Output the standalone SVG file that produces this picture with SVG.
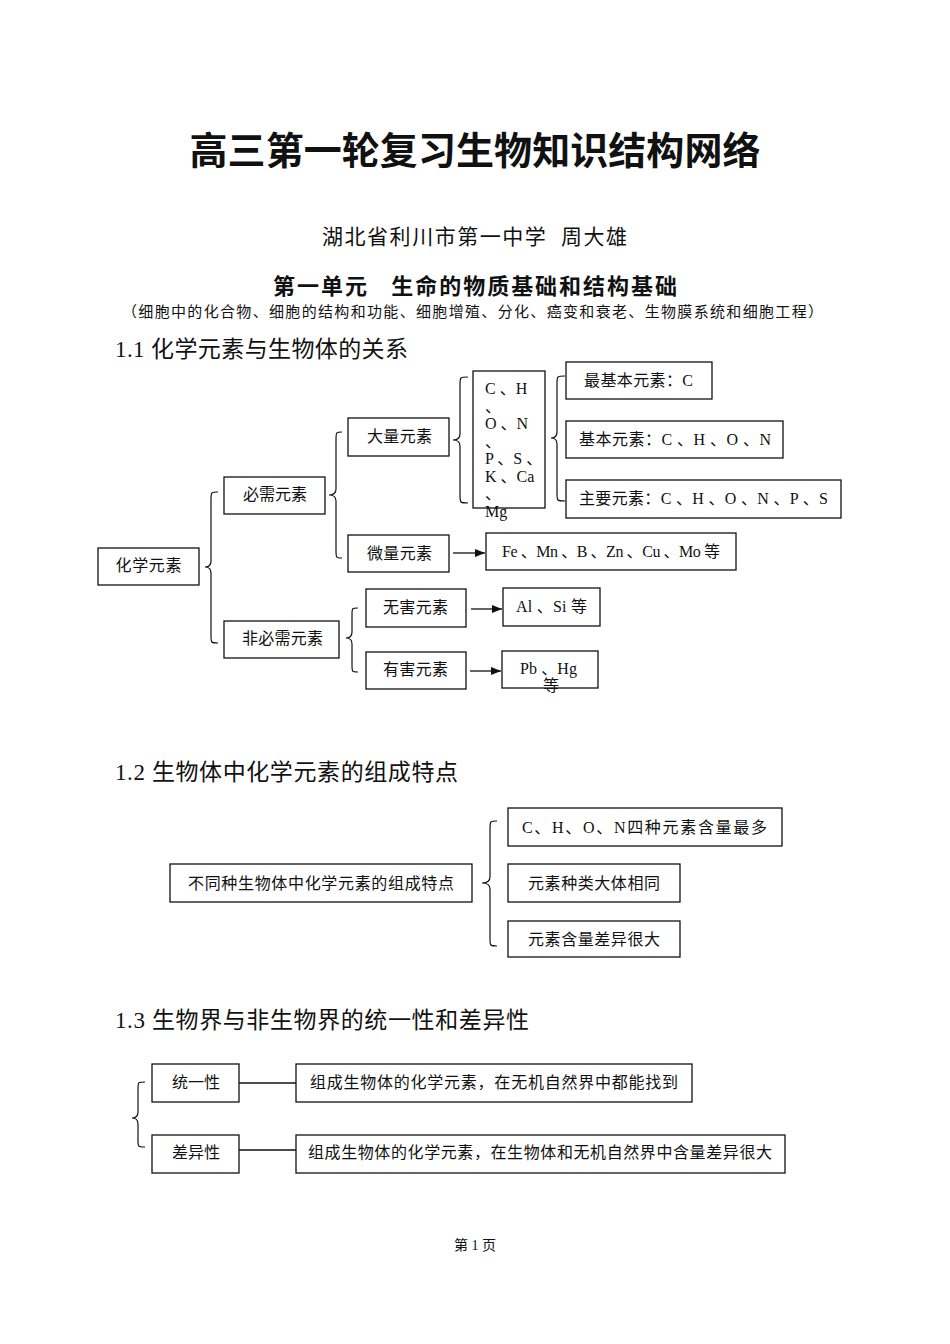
<svg xmlns="http://www.w3.org/2000/svg" width="950" height="1344" viewBox="0 0 950 1344">
<style>
text{font-family:"Liberation Serif","Noto Sans CJK SC",serif;fill:#111}
.t{font-size:16px}
.c{text-anchor:middle}
.box{fill:#fff;stroke:#111;stroke-width:1.3}
.br{fill:none;stroke:#111;stroke-width:1.2}
.ln{stroke:#111;stroke-width:1.3}
.title{font-family:"Noto Sans CJK SC","Liberation Sans",sans-serif;font-size:38px;font-weight:bold;text-anchor:middle}
.h{font-size:23px}
</style>
<defs>
<marker id="arr" markerUnits="userSpaceOnUse" markerWidth="10" markerHeight="8" refX="10" refY="4" orient="auto">
<path d="M0,0 L10,4 L0,8 z" fill="#111"/>
</marker>
</defs>
<rect width="950" height="1344" fill="#fff"/>

<g id="headings">
<text class="title" x="475" y="164" textLength="571">高三第一轮复习生物知识结构网络</text>
<text x="322" y="244" font-size="21" textLength="305" xml:space="preserve">湖北省利川市第一中学  周大雄</text>
<text x="273" y="294" font-size="22" font-weight="bold" textLength="404" xml:space="preserve">第一单元   生命的物质基础和结构基础</text>
<text x="122" y="317" font-size="15" textLength="701">（细胞中的化合物、细胞的结构和功能、细胞增殖、分化、癌变和衰老、生物膜系统和细胞工程）</text>
<text class="h" x="115" y="357" textLength="293">1.1 化学元素与生物体的关系</text>
<text class="h" x="115" y="780" textLength="343">1.2 生物体中化学元素的组成特点</text>
<text class="h" x="115" y="1028" textLength="414">1.3 生物界与非生物界的统一性和差异性</text>
<text x="475" y="1250" font-size="14" class="c">第 1 页</text>
</g>

<g id="connectors">
<path class="br" d="M218,492 C211,492 211,492 211,500 L211,561 Q211,567 205,567 Q211,567 211,573 L211,635 C211,643 211,643 218,643"/>
<path class="br" d="M342,432 C336,432 336,432 336,440 L336,489 Q336,495 329,495 Q336,495 336,501 L336,550 C336,558 336,558 342,558"/>
<path class="br" d="M358,608 C352,608 352,608 352,615 L352,632 Q352,638 346,638 Q352,638 352,644 L352,665 C352,672 352,672 358,672"/>
<path class="br" d="M468,377 C460,377 460,377 460,385 L460,434 Q460,440 453,440 Q460,440 460,446 L460,495 C460,503 460,503 468,503"/>
<path class="br" d="M565,376 C557,376 557,376 557,384 L557,432 Q557,438 551,438 Q557,438 557,444 L557,493 C557,501 557,501 565,501"/>
<path class="br" d="M497,821 C490,821 490,821 490,829 L490,877 Q490,883 482,883 Q490,883 490,889 L490,938 C490,946 490,946 497,946"/>
<path class="br" d="M145,1082 C138,1082 138,1082 138,1089 L138,1112 Q138,1118 132,1118 Q138,1118 138,1124 L138,1140 C138,1147 138,1147 145,1147"/>
<line class="ln" x1="453" y1="553" x2="485" y2="553" marker-end="url(#arr)"/>
<line class="ln" x1="471" y1="609" x2="502" y2="609" marker-end="url(#arr)"/>
<line class="ln" x1="470" y1="671" x2="501" y2="671" marker-end="url(#arr)"/>
<line class="ln" x1="239" y1="1083" x2="296" y2="1083"/>
<line class="ln" x1="239" y1="1150" x2="296" y2="1150"/>
</g>

<g id="n-huaxue"><rect class="box" x="98" y="548" width="101" height="37"/><text class="t c" x="148.5" y="571" textLength="66">化学元素</text></g>
<g id="n-bixu"><rect class="box" x="224" y="477" width="101" height="37"/><text class="t c" x="275" y="500" textLength="64">必需元素</text></g>
<g id="n-feibixu"><rect class="box" x="224" y="621" width="115" height="37"/><text class="t c" x="282.5" y="644" textLength="81">非必需元素</text></g>
<g id="n-daliang"><rect class="box" x="348" y="418" width="101" height="38"/><text class="t c" x="399.5" y="442" textLength="65">大量元素</text></g>
<g id="n-weiliang"><rect class="box" x="348" y="535" width="101" height="37"/><text class="t c" x="399.5" y="559" textLength="65">微量元素</text></g>
<g id="n-wuhai"><rect class="box" x="366" y="589" width="100" height="38"/><text class="t c" x="415.5" y="613" textLength="65">无害元素</text></g>
<g id="n-youhai"><rect class="box" x="366" y="652" width="100" height="37"/><text class="t c" x="415.5" y="675" textLength="65">有害元素</text></g>
<g id="n-chon">
<rect class="box" x="473" y="371" width="72" height="137"/>
<text class="t" x="485" y="394" xml:space="preserve">C 、H</text>
<text class="t" x="485" y="411.5">、</text>
<text class="t" x="485" y="429" xml:space="preserve">O 、N</text>
<text class="t" x="485" y="446.5">、</text>
<text class="t" x="485" y="464" xml:space="preserve">P 、S 、</text>
<text class="t" x="485" y="481.5" xml:space="preserve">K 、Ca</text>
<text class="t" x="485" y="499">、</text>
<text class="t" x="485" y="516.5">Mg</text>
</g>
<g id="n-zuijiben"><rect class="box" x="566" y="362" width="146" height="37"/><text class="t c" x="638.5" y="385.5" textLength="109">最基本元素：C</text></g>
<g id="n-jiben"><rect class="box" x="566" y="421" width="217" height="37"/><text class="t c" x="675" y="444.5" textLength="192" xml:space="preserve">基本元素：C 、H 、O 、N</text></g>
<g id="n-zhuyao"><rect class="box" x="566" y="480" width="275" height="38"/><text class="t c" x="703.5" y="503.5" textLength="249" xml:space="preserve">主要元素：C 、H 、O 、N 、P 、S</text></g>
<g id="n-fe"><rect class="box" x="486" y="533" width="250" height="37"/><text class="t c" x="611" y="556.5" textLength="218" xml:space="preserve">Fe 、Mn 、B 、Zn 、Cu 、Mo 等</text></g>
<g id="n-al"><rect class="box" x="503" y="588" width="97" height="38"/><text class="t c" x="551.5" y="612" textLength="71" xml:space="preserve">Al 、Si 等</text></g>
<g id="n-pb"><rect class="box" x="502" y="651" width="96" height="37"/><text class="t c" x="548.5" y="674" textLength="57" xml:space="preserve">Pb 、Hg</text><text class="t c" x="551" y="691">等</text></g>

<g id="n-butong"><rect class="box" x="170" y="864" width="302" height="38"/><text class="t c" x="321" y="888.5" textLength="266">不同种生物体中化学元素的组成特点</text></g>
<g id="n-chonzui"><rect class="box" x="508" y="808" width="274" height="38"/><text class="t c" x="644.5" y="833" textLength="245">C、H、O、N四种元素含量最多</text></g>
<g id="n-zhonglei"><rect class="box" x="508" y="864" width="172" height="38"/><text class="t c" x="594" y="889" textLength="132">元素种类大体相同</text></g>
<g id="n-hanliang"><rect class="box" x="508" y="921" width="172" height="36"/><text class="t c" x="594" y="945" textLength="132">元素含量差异很大</text></g>

<g id="n-tongyi"><rect class="box" x="152" y="1064" width="87" height="38"/><text class="t c" x="196" y="1088" textLength="48">统一性</text></g>
<g id="n-chayi"><rect class="box" x="152" y="1135" width="87" height="38"/><text class="t c" x="196" y="1157.5" textLength="48">差异性</text></g>
<g id="n-tongyi-d"><rect class="box" x="296" y="1064" width="396" height="38"/><text class="t" x="310" y="1088" textLength="368">组成生物体的化学元素，在无机自然界中都能找到</text></g>
<g id="n-chayi-d"><rect class="box" x="296" y="1135" width="489" height="38"/><text class="t" x="308" y="1157.5" textLength="464">组成生物体的化学元素，在生物体和无机自然界中含量差异很大</text></g>
</svg>
